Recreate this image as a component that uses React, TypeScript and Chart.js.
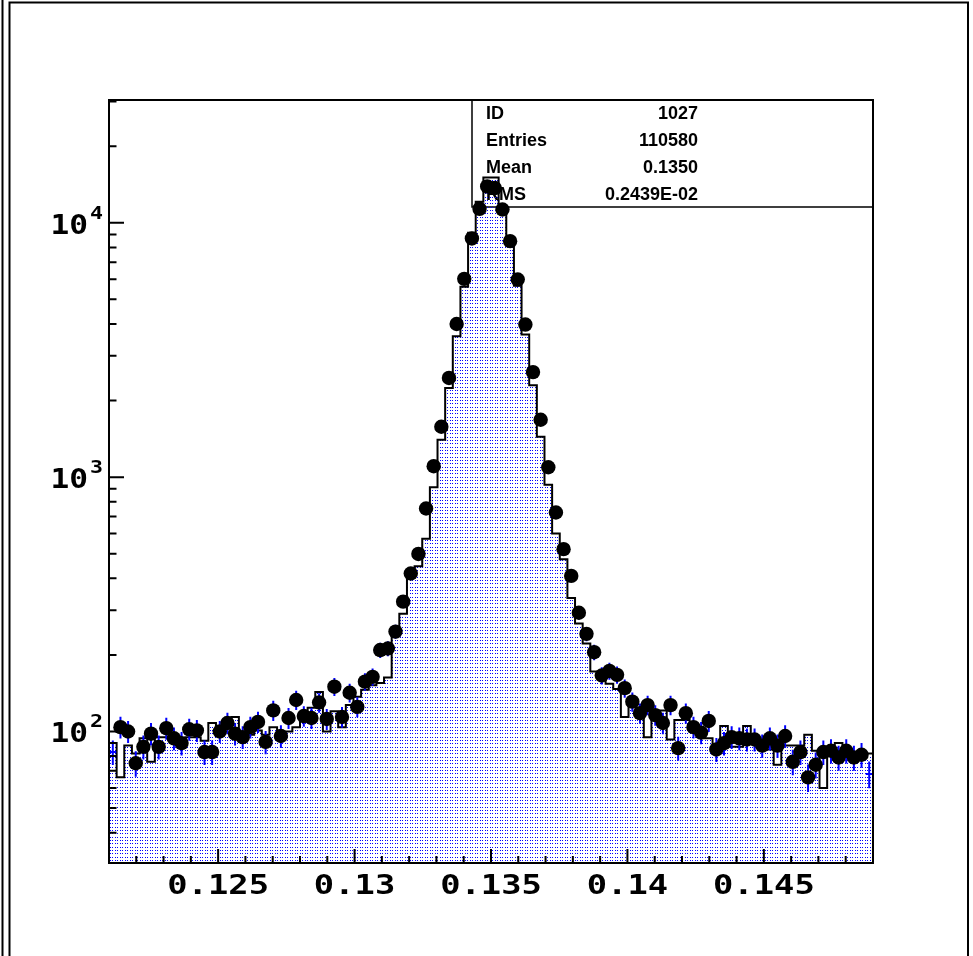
import React, { useEffect, useRef } from 'react';
import { Chart, registerables } from 'chart.js';

Chart.register(...registerables);

// ---- axis configuration ----
const X_MIN = 0.121;
const X_MAX = 0.149;
const N_BINS = 100;
const Y_MIN = 30.4;
const Y_MAX = 30400;

// ---- tick labels ----
const xTickValues = [0.125, 0.13, 0.135, 0.14, 0.145];
const xTickLabels = ['0.125', '0.13', '0.135', '0.14', '0.145'];
const yDecades = [2, 3, 4];

// ---- statistics box ----
const statsLabels = ['ID', 'Entries', 'Mean', 'RMS'];
const statsValues = ['1027', '110580', '0.1350', '0.2439E-02'];

// ---- histogram contents (filled, outlined) ----
const histValues = [
  90, 66, 88, 82, 94, 76, 95, 95, 92, 91,
  95, 95, 92, 108, 100, 103, 114, 97, 97, 101,
  97, 104, 100, 100, 104, 118, 124, 143, 100, 120,
  104, 127, 137, 146, 152, 155, 163, 255, 290, 418,
  446, 573, 913, 1403, 2240, 3577, 5600, 9140, 12100, 15070,
  15070, 11170, 8400, 5650, 3640, 2300, 1440, 934, 600, 476,
  335, 266, 222, 172, 160, 154, 147, 114, 127, 119,
  95, 121, 121, 93, 111, 111, 103, 97, 94, 86,
  105, 87, 87, 105, 90, 88, 85, 74, 88, 88,
  88, 97, 84, 60, 82, 90, 82, 82, 82, 82,
];

// ---- data points (markers with errors) ----
const dataValues = [
  83, 104, 100, 75, 87, 98, 87, 103, 94, 90,
  102, 101, 83, 83, 100, 108, 98, 95, 104, 109,
  91, 121, 96, 113, 133, 115, 113, 130, 112, 150,
  114, 142, 125, 157, 164, 209, 212, 247, 324, 418,
  499, 753, 1104, 1578, 2455, 4000, 6020, 8680, 11350, 13900,
  13700, 11280, 8470, 5985, 3981, 2588, 1681, 1094, 726, 521,
  409, 293, 242, 205, 166, 173, 167, 148, 131, 118,
  127, 116, 108, 127, 86, 118, 104, 99, 110, 85,
  90, 95, 94, 93, 93, 88, 94, 88, 96, 76,
  83, 66, 74, 83, 84, 79, 84, 79, 81, 68,
];

const BIN_W = (X_MAX - X_MIN) / N_BINS;
const LABEL_FONT = 'bold 26px "DejaVu Sans Mono"';
const SUP_FONT = 'bold 18px "DejaVu Sans Mono"';

function makePattern(ctx: CanvasRenderingContext2D) {
  const c = document.createElement('canvas');
  c.width = 5;
  c.height = 10;
  const g = c.getContext('2d')!;
  g.fillStyle = '#0000ff';
  [0, 3, 7].forEach((y) => {
    g.fillRect(0, y, 1, 1);
    g.fillRect(2, y, 1, 1);
  });
  return ctx.createPattern(c, 'repeat');
}

const errorBarsPlugin = {
  id: 'errorBars',
  afterDatasetDraw(chart: any, args: any) {
    if (args.index !== 0) return;
    const { ctx, scales } = chart;
    const xs = scales.x;
    const ys = scales.y;
    ctx.save();
    ctx.strokeStyle = '#0000ff';
    ctx.lineWidth = 2;
    ctx.beginPath();
    dataValues.forEach((v, i) => {
      const e = Math.sqrt(v);
      const xc = xs.getPixelForValue(X_MIN + (i + 0.5) * BIN_W);
      const xl = xs.getPixelForValue(X_MIN + (i + 0.05) * BIN_W);
      const xr = xs.getPixelForValue(X_MIN + (i + 0.95) * BIN_W);
      const y0 = ys.getPixelForValue(v);
      ctx.moveTo(xc, ys.getPixelForValue(v - e));
      ctx.lineTo(xc, ys.getPixelForValue(v + e));
      ctx.moveTo(xl, y0);
      ctx.lineTo(xr, y0);
    });
    ctx.stroke();
    ctx.restore();
  },
};

const statsPlugin = {
  id: 'statsBox',
  beforeDatasetsDraw(chart: any) {
    const { ctx, chartArea: a } = chart;
    const boxLeft = 472;
    const boxBottom = 207;
    ctx.save();
    ctx.strokeStyle = '#000';
    ctx.lineWidth = 1.5;
    ctx.beginPath();
    ctx.moveTo(boxLeft, a.top);
    ctx.lineTo(boxLeft, boxBottom);
    ctx.lineTo(a.right, boxBottom);
    ctx.stroke();
    ctx.fillStyle = '#000';
    ctx.font = 'bold 18px "Liberation Sans", Arial, sans-serif';
    ctx.textBaseline = 'middle';
    const rows = [114, 141, 168, 195];
    statsLabels.forEach((lab, i) => {
      ctx.textAlign = 'left';
      ctx.fillText(lab, 486, rows[i]);
      ctx.textAlign = 'right';
      ctx.fillText(statsValues[i], 698, rows[i]);
    });
    ctx.restore();
  },
};

const framePlugin = {
  id: 'frameAxes',
  afterDraw(chart: any) {
    const { ctx, chartArea: a, scales } = chart;
    const xs = scales.x;
    const ys = scales.y;
    const W = chart.width;
    const H = chart.height;
    ctx.save();
    // outer page borders
    ctx.strokeStyle = '#000';
    ctx.lineWidth = 2;
    ctx.beginPath();
    ctx.moveTo(2.5, 0);
    ctx.lineTo(2.5, H);
    ctx.moveTo(9.5, H);
    ctx.lineTo(9.5, 2.5);
    ctx.lineTo(W - 5, 2.5);
    ctx.lineTo(W - 5, H);
    ctx.stroke();

    // plot frame
    ctx.lineWidth = 2;
    ctx.strokeRect(a.left, a.top, a.right - a.left, a.bottom - a.top);

    // x ticks
    ctx.beginPath();
    for (let k = 122; k <= 148; k++) {
      const v = k / 1000;
      const x = xs.getPixelForValue(v);
      const major = k % 5 === 0;
      ctx.moveTo(x, a.bottom);
      ctx.lineTo(x, a.bottom - (major ? 14 : 7));
    }
    // y ticks (log)
    for (let d = 1; d <= 4; d++) {
      for (let m = 1; m <= 9; m++) {
        const v = m * Math.pow(10, d);
        if (v < Y_MIN || v > Y_MAX) continue;
        const y = ys.getPixelForValue(v);
        ctx.moveTo(a.left, y);
        ctx.lineTo(a.left + (m === 1 ? 15 : 7.5), y);
      }
    }
    ctx.stroke();

    // x labels
    ctx.fillStyle = '#000';
    ctx.font = LABEL_FONT;
    ctx.textAlign = 'center';
    ctx.textBaseline = 'alphabetic';
    xTickValues.forEach((v, i) => {
      const x = xs.getPixelForValue(v);
      ctx.save();
      ctx.translate(x, a.bottom + 31);
      ctx.scale(1.3, 1);
      ctx.fillText(xTickLabels[i], 0, 0);
      ctx.restore();
    });

    // y labels 10^d
    yDecades.forEach((d) => {
      const y = ys.getPixelForValue(Math.pow(10, d));
      ctx.save();
      ctx.translate(88, y + 11);
      ctx.scale(1.2, 1);
      ctx.font = LABEL_FONT;
      ctx.textAlign = 'right';
      ctx.fillText('10', 0, 0);
      ctx.restore();
      ctx.save();
      ctx.translate(90, y - 4);
      ctx.scale(1.2, 1);
      ctx.font = SUP_FONT;
      ctx.textAlign = 'left';
      ctx.fillText(String(d), 0, 0);
      ctx.restore();
    });
    ctx.restore();
  },
};

export default function App() {
  const ref = useRef<HTMLCanvasElement>(null);
  useEffect(() => {
    const canvas = ref.current!;
    const ctx = canvas.getContext('2d')!;
    const pattern = makePattern(ctx);

    const histPoints = [];
    for (let i = 0; i <= N_BINS; i++) {
      histPoints.push({ x: X_MIN + i * BIN_W, y: histValues[Math.min(i, N_BINS - 1)] });
    }
    const markerPoints = dataValues.map((v, i) => ({ x: X_MIN + (i + 0.5) * BIN_W, y: v }));

    const chart = new Chart(ctx, {
      type: 'line',
      data: {
        datasets: [
          {
            label: 'hist',
            data: histPoints,
            stepped: 'before',
            borderColor: '#000',
            borderWidth: 2,
            backgroundColor: pattern as any,
            fill: 'start',
            pointRadius: 0,
            order: 2,
          },
          {
            label: 'data',
            type: 'scatter',
            data: markerPoints,
            showLine: false,
            pointRadius: (c: any) => (c.dataIndex === 0 || c.dataIndex === N_BINS - 1 ? 0 : 7.2),
            pointBackgroundColor: '#000',
            pointBorderColor: '#000',
            pointBorderWidth: 0,
            order: 1,
          },
        ],
      },
      options: {
        animation: false,
        responsive: false,
        devicePixelRatio: 1,
        layout: { padding: { left: 109, top: 100, right: 100, bottom: 93 } },
        plugins: {
          legend: { display: false },
          tooltip: { enabled: false },
          title: { display: false },
        },
        scales: {
          x: { type: 'linear', min: X_MIN, max: X_MAX, display: false },
          y: { type: 'logarithmic', min: Y_MIN, max: Y_MAX, display: false },
        },
      },
      plugins: [statsPlugin, errorBarsPlugin, framePlugin],
    });
    return () => chart.destroy();
  }, []);

  return (
    <div style={{ position: 'absolute', left: 0, top: 0, width: 973, height: 956, background: '#fff' }}>
      <canvas ref={ref} width={973} height={956} style={{ display: 'block' }} />
    </div>
  );
}
